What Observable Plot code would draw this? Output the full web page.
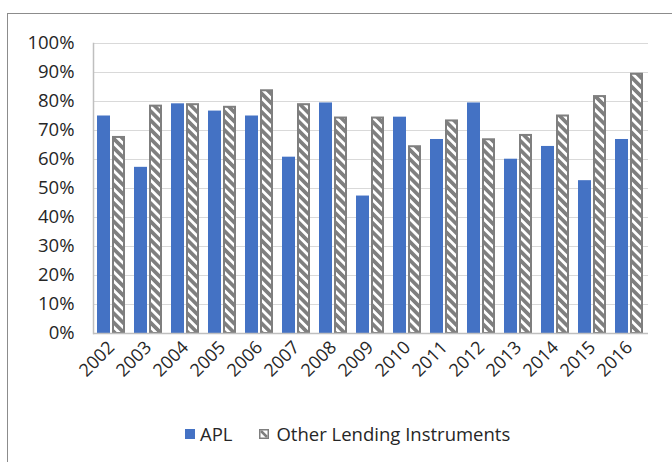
<!DOCTYPE html>
<html>
<head>
<meta charset="utf-8">
<script src="https://cdn.jsdelivr.net/npm/d3@7"></script>
<script src="https://cdn.jsdelivr.net/npm/@observablehq/plot@0.6"></script>
<style>
  html, body { margin: 0; padding: 0; background: #fff; overflow: hidden; }
  body { width: 672px; height: 462px; position: relative; font-family: "Open Sans", Lato, sans-serif; }
  #frame { position: absolute; left: 7px; top: 13px; width: 720px; height: 520px; border: 1px solid #8c8c8c; box-sizing: border-box; }
  #chart { position: absolute; left: 0; top: 0; }
  #legend { position: absolute; left: 185px; top: 421px; display: flex; align-items: center; font-size: 18.5px; color: #262626; white-space: nowrap; }
  .item { display: flex; align-items: center; }
  .item svg { margin-right: 7px; }
</style>
</head>
<body>
<div id="frame"></div>
<div id="chart"></div>
<div id="legend"></div>
<script>
const years = ["2002","2003","2004","2005","2006","2007","2008","2009","2010","2011","2012","2013","2014","2015","2016"];
const seriesNames = ["APL", "Other Lending Instruments"];
const aplValues = [75.0, 57.3, 79.2, 76.7, 75.0, 60.8, 79.5, 47.4, 74.6, 66.9, 79.5, 60.1, 64.5, 52.7, 66.9];
const otherValues = [67.6, 78.4, 78.9, 78.0, 83.7, 78.9, 74.3, 74.3, 64.4, 73.3, 66.8, 68.3, 75.0, 81.7, 89.4];
const yTicks = [0, 10, 20, 30, 40, 50, 60, 70, 80, 90, 100];

const apl = years.map((y, i) => ({year: y, series: seriesNames[0], value: aplValues[i]}));
const other = years.map((y, i) => ({year: y, series: seriesNames[1], value: otherValues[i]}));

const blue = "#4472C4";
const gray = "#7f7f7f";
const textColor = "#262626";

const chart = Plot.plot({
  width: 672,
  height: 410,
  marginLeft: 93,
  marginRight: 24,
  marginTop: 43,
  marginBottom: 77,
  style: {fontFamily: "'Open Sans', Lato, sans-serif", color: textColor, background: "transparent"},
  x: {domain: years, paddingInner: 0.24, paddingOuter: 0.12, label: null},
  y: {domain: [0, 100], label: null},
  marks: [
    Plot.gridY(yTicks, {stroke: "#d9d9d9", strokeOpacity: 1, strokeWidth: 1}),
    Plot.frame({anchor: "left", stroke: "#bfbfbf", strokeOpacity: 1, strokeWidth: 1.5}),
    Plot.barY(apl, {x: "year", y: "value", fill: blue, insetRight: 15}),
    Plot.barY(other, {x: "year", y: "value", fill: "url(#hatch)", stroke: gray, strokeWidth: 2, insetLeft: 16, insetRight: 1}),
    Plot.ruleY([0], {stroke: "#bfbfbf", strokeWidth: 1.5}),
    Plot.axisY(yTicks, {tickSize: 0, tickPadding: 19, tickFormat: d => d + "%", fontSize: 18.5, fill: textColor}),
    Plot.axisX({tickRotate: -45, tickSize: 0, tickPadding: 11, fontSize: 18, fill: textColor})
  ]
});

const ns = "http://www.w3.org/2000/svg";
const defs = document.createElementNS(ns, "defs");
defs.innerHTML = `<pattern id="hatch" patternUnits="userSpaceOnUse" width="6.5" height="6.5" patternTransform="rotate(-45)">
  <rect width="6.5" height="6.5" fill="#ffffff"></rect>
  <rect width="3.7" height="6.5" fill="${gray}"></rect>
</pattern>`;
chart.insertBefore(defs, chart.firstChild);
document.getElementById("chart").appendChild(chart);

const legend = document.getElementById("legend");
legend.innerHTML = `
  <div class="item" style="margin-right:27px">
    <svg width="10" height="10" style="margin-right:5px"><rect width="10" height="10" fill="${blue}"></rect></svg>
    <span>${seriesNames[0]}</span>
  </div>
  <div class="item">
    <svg width="10" height="10">
      <rect x="0.75" y="0.75" width="8.5" height="8.5" fill="#fff" stroke="${gray}" stroke-width="1.5"></rect>
      <path d="M2,2 L8,8" stroke="${gray}" stroke-width="2.5"></path>
    </svg>
    <span>${seriesNames[1]}</span>
  </div>`;
</script>
</body>
</html>
